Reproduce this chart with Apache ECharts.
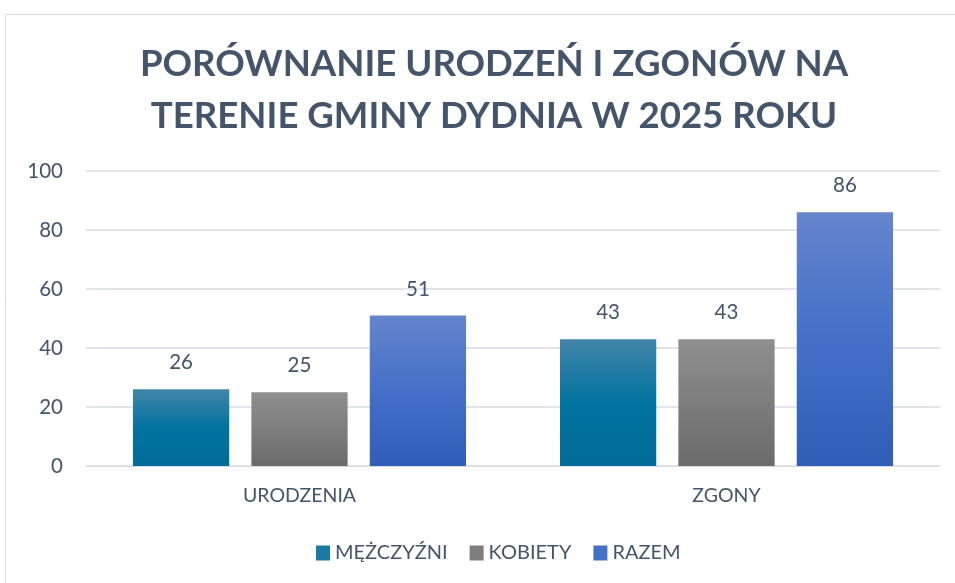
<!DOCTYPE html>
<html>
<head>
<meta charset="utf-8">
<script src="https://cdn.jsdelivr.net/npm/echarts@6/dist/echarts.min.js"></script>
<style>html,body{margin:0;padding:0;background:#fff;}#c{width:955px;height:583px;}</style>
</head>
<body>
<div id="c"></div>
<script>
const categories = ['URODZENIA', 'ZGONY'];
const seriesNames = ['MĘŻCZYŹNI', 'KOBIETY', 'RAZEM'];
const men = [26, 43];
const women = [25, 43];
const total = [51, 86];
const yTicks = [0, 20, 40, 60, 80, 100];

const FONT = 'Lato, "Open Sans", sans-serif';
const TXT = '#44546a';
function grad(top, mid, bottom) {
  return new echarts.graphic.LinearGradient(0, 0, 0, 1, [
    {offset: 0, color: top}, {offset: 0.5, color: mid}, {offset: 1, color: bottom}
  ]);
}
const colors = [
  grad('#4385a9', '#00739f', '#006b98'),
  grad('#8f8f8f', '#7d7d7d', '#6b6b6b'),
  grad('#6585cd', '#4470c8', '#2f5eb7')
];
const legendColors = ['#1a7aa3', '#7d7d7d', '#4470c8'];
const values = [men, women, total];

const chart = echarts.init(document.getElementById('c'));
chart.setOption({
  backgroundColor: '#fff',
  animation: false,
  graphic: [{
    type: 'rect', shape: {x: 5.5, y: 14.5, width: 1000, height: 700},
    style: {fill: 'none', stroke: '#d9dce3', lineWidth: 1}, silent: true, z: -10
  }],
  title: {
    text: 'PORÓWNANIE URODZEŃ I ZGONÓW NA\nTERENIE GMINY DYDNIA W 2025 ROKU',
    left: 489, textAlign: 'center', top: 33,
    textStyle: {fontFamily: FONT, fontWeight: 'bold', fontSize: 36.6, color: TXT, lineHeight: 52}
  },
  legend: {
    top: 538, left: 311, itemWidth: 14, itemHeight: 15, itemGap: 22,
    icon: 'rect',
    textStyle: {fontFamily: FONT, fontSize: 20, color: TXT},
    data: seriesNames.map((n, i) => ({name: n, itemStyle: {color: legendColors[i]}}))
  },
  grid: {left: 86, right: 15, top: 171, bottom: 117, containLabel: false},
  xAxis: {
    type: 'category', data: categories,
    axisLine: {lineStyle: {color: '#d9dce3', width: 1}},
    axisTick: {show: false},
    axisLabel: {fontFamily: FONT, fontSize: 19.5, color: TXT, margin: 20}
  },
  yAxis: {
    type: 'value', min: 0, max: 100, interval: 20,
    axisLine: {show: false}, axisTick: {show: false},
    splitLine: {lineStyle: {color: '#e1e4e9', width: 2}},
    axisLabel: {fontFamily: FONT, fontSize: 20.5, color: TXT, margin: 23,
      formatter: v => yTicks.includes(v) ? String(v) : ''}
  },
  series: seriesNames.map((n, i) => ({
    name: n, type: 'bar', data: values[i],
    barGap: '23%', barCategoryGap: '22%',
    itemStyle: {color: colors[i]},
    label: {show: true, position: 'top', distance: 16, fontFamily: FONT, fontSize: 20.5, color: TXT}
  }))
});
</script>
</body>
</html>
